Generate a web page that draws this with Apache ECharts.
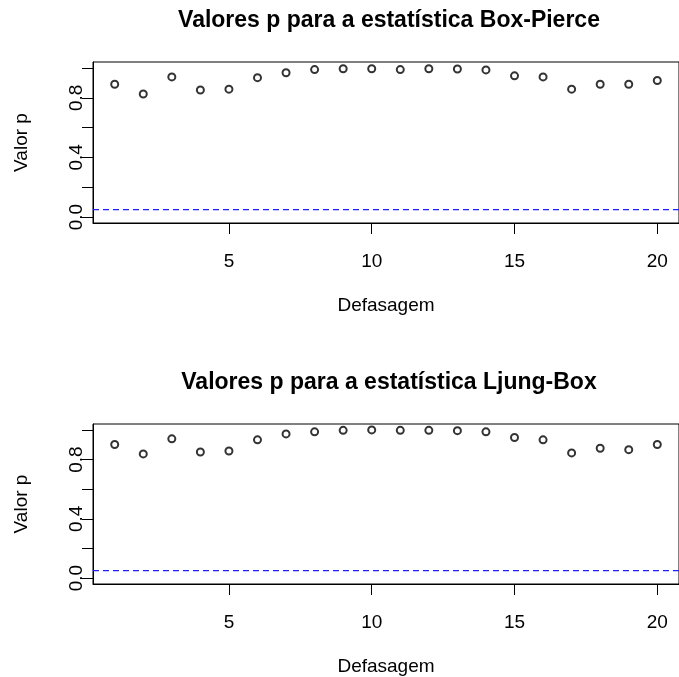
<!DOCTYPE html>
<html>
<head>
<meta charset="utf-8">
<script src="https://cdn.jsdelivr.net/npm/echarts@6/dist/echarts.min.js"></script>
<style>
html, body { margin: 0; padding: 0; background: #fff; }
#chart { width: 679px; height: 677px; }
</style>
</head>
<body>
<div id="chart"></div>
<script>
// lags and p-values
const lags = [1, 2, 3, 4, 5, 6, 7, 8, 9, 10, 11, 12, 13, 14, 15, 16, 17, 18, 19, 20];
const boxPierce = [0.891, 0.825, 0.940, 0.852, 0.858, 0.935, 0.968, 0.989, 0.995, 0.995,
                   0.989, 0.995, 0.993, 0.987, 0.947, 0.940, 0.858, 0.891, 0.891, 0.916];
const ljungBox = [0.902, 0.838, 0.940, 0.851, 0.858, 0.933, 0.973, 0.987, 0.997, 1.000,
                  0.997, 0.997, 0.995, 0.987, 0.949, 0.933, 0.845, 0.876, 0.867, 0.902];
const xTicks = [5, 10, 15, 20];
const yTicks = [0, 0.2, 0.4, 0.6, 0.8, 1.0];
const yLabels = [0, 0.4, 0.8];
const alpha = 0.05;
const titles = ['Valores p para a estatística Box-Pierce', 'Valores p para a estatística Ljung-Box'];

// axis limits (R style: data range padded by 4%)
const xMin = 0.24, xMax = 20.76;
const yMin = -0.04, yMax = 1.04;

const font = '"Liberation Sans", Arial, Helvetica, sans-serif';
const gridTops = [62, 424];

function xAxisFor(i) {
    return {
        type: 'value', gridIndex: i, min: xMin, max: xMax,
        axisLine: { show: true, onZero: false, lineStyle: { color: '#000', width: 1 } },
        axisTick: { show: true, inside: false, length: 11, customValues: xTicks, lineStyle: { color: '#000' } },
        axisLabel: { customValues: xTicks, margin: 29, fontSize: 19, color: '#000', fontFamily: font },
        splitLine: { show: false },
        name: 'Defasagem', nameLocation: 'middle', nameGap: 73,
        nameTextStyle: { fontSize: 19, color: '#000', fontFamily: font }
    };
}

function yAxisFor(i) {
    return {
        type: 'value', gridIndex: i, min: yMin, max: yMax,
        axisLine: { show: true, onZero: false, lineStyle: { color: '#000', width: 1 } },
        axisTick: { show: true, inside: false, length: 11, customValues: yTicks, lineStyle: { color: '#000' } },
        axisLabel: {
            customValues: yLabels, rotate: 90, margin: 7, fontSize: 19, color: '#000', fontFamily: font,
            formatter: v => v.toFixed(1)
        },
        splitLine: { show: false },
        name: 'Valor p', nameLocation: 'middle', nameGap: 62,
        nameTextStyle: { fontSize: 19, color: '#000', fontFamily: font }
    };
}

function pointsFor(i, values) {
    return {
        type: 'scatter', xAxisIndex: i, yAxisIndex: i, z: 3,
        data: lags.map((l, k) => [l, values[k]]),
        symbol: 'emptyCircle', symbolSize: 7,
        itemStyle: { color: '#000', borderColor: '#000', borderWidth: 1 }
    };
}

// horizontal reference line at alpha, across the whole plot
function alphaLine(i) {
    return {
        type: 'line', xAxisIndex: i, yAxisIndex: i, z: 4,
        data: [[xMin, alpha], [xMax, alpha]],
        showSymbol: false, silent: true,
        color: '#1f1fff',
        lineStyle: { color: '#1f1fff', type: [6, 4], width: 1.3, opacity: 1 },
        itemStyle: { color: '#1f1fff' }
    };
}

let chart = echarts.init(document.getElementById('chart'));
chart.setOption({
    backgroundColor: '#fff',
    animation: false,
    title: titles.map((t, i) => ({
        text: t, left: 389, top: gridTops[i] - 53, textAlign: 'center', padding: 0,
        textStyle: { fontSize: 23, fontWeight: 'bold', color: '#000', fontFamily: font }
    })),
    grid: gridTops.map(t => ({
        left: 93, right: -6, top: t, height: 161,
        show: true, borderColor: '#000', borderWidth: 1
    })),
    xAxis: [xAxisFor(0), xAxisFor(1)],
    yAxis: [yAxisFor(0), yAxisFor(1)],
    series: [pointsFor(0, boxPierce), alphaLine(0), pointsFor(1, ljungBox), alphaLine(1)]
});
</script>
</body>
</html>
